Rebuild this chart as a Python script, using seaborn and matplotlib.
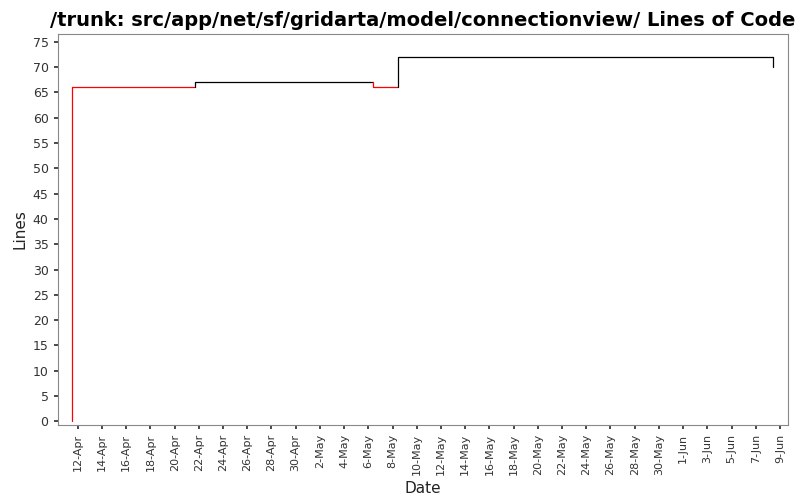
import numpy as np
import pandas as pd
import matplotlib
matplotlib.use("Agg")
import matplotlib.pyplot as plt
import matplotlib.dates as mdates
import seaborn as sns

sns.set_theme(style="white")
plt.rcParams['font.family'] = ['DejaVu Sans']

# revision timestamps and line counts
dates = pd.to_datetime(["2008-04-11 12:00", "2008-04-21 16:00", "2008-05-06 10:00",
                        "2008-05-08 10:00", "2008-06-08 10:00"])
lines = [66, 67, 66, 72, 70]
seg_colors = ["red", "black", "red", "black", "black"]

fig, ax = plt.subplots(figsize=(8, 5), dpi=100)
ax.set_facecolor("white")

# vertical jump from zero at the start
prev_val = 0
for i in range(len(dates)):
    end = dates[i + 1] if i + 1 < len(dates) else dates[i]
    df = pd.DataFrame({"date": [dates[i], dates[i], end], "lines": [prev_val, lines[i], lines[i]]})
    sns.lineplot(data=df, x="date", y="lines", color=seg_colors[i], linewidth=0.9,
                 sort=False, estimator=None, ax=ax)
    prev_val = lines[i]

ax.set_xlim(pd.Timestamp("2008-04-10 08:00"), pd.Timestamp("2008-06-09 16:00"))
ax.set_ylim(-0.7, 76.5)
ax.set_yticks(range(0, 80, 5))
ticks = pd.date_range("2008-04-12", "2008-06-09", freq="2D")
ax.set_xticks(ticks)
ax.set_xticklabels([f"{d.day}-{d.strftime('%b')}" for d in ticks], rotation=90, fontsize=8)
ax.tick_params(axis='y', labelsize=9, length=3, left=True, colors="#333333")
ax.tick_params(axis='x', length=3, bottom=True, colors="#333333")
for s in ax.spines.values():
    s.set_color("#888888")
    s.set_linewidth(0.8)

ax.set_xlabel("Date", fontsize=11, color="#222222")
ax.set_ylabel("Lines", fontsize=11, color="#222222")
ax.set_title("/trunk: src/app/net/sf/gridarta/model/connectionview/ Lines of Code",
             fontsize=14, fontweight="bold", color="black", x=0.5)

fig.subplots_adjust(left=0.072, right=0.985, top=0.932, bottom=0.15)
fig.savefig("out.png", dpi=100)
